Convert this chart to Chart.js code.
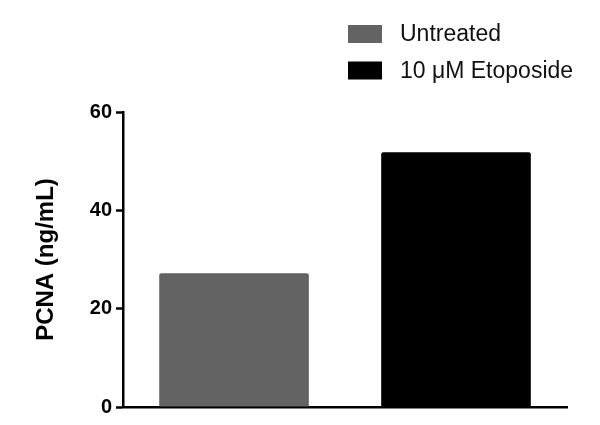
<!DOCTYPE html>
<html>
<head>
<meta charset="utf-8">
<script src="https://cdn.jsdelivr.net/npm/chart.js@4.4.1/dist/chart.umd.min.js"></script>
<style>
  html, body { margin: 0; padding: 0; background: #fff; }
  #wrap { width: 600px; height: 425px; }
</style>
</head>
<body>
<div id="wrap"><canvas id="pcnaChart"></canvas></div>
<script>
// values
const groups = ["Untreated", "10 \u03bcM Etoposide"];
const pcnaValues = [27.2, 51.8];
const barColors = ["#636363", "#000000"];
const yTicks = [0, 20, 40, 60];

const FONT = "Arial, 'Liberation Sans', Helvetica, sans-serif";

// stacked legend in the top right corner, drawn on the canvas
const stackedLegend = {
    id: "stackedLegend",
    afterDraw(chart) {
        const ctx = chart.ctx;
        const x0 = 348, y0 = 25, boxW = 34, boxH = 18, rowGap = 36.5;
        ctx.save();
        ctx.font = "23px " + FONT;
        ctx.textBaseline = "middle";
        ctx.textAlign = "left";
        chart.data.labels.forEach((lbl, i) => {
            const y = y0 + i * rowGap;
            ctx.fillStyle = chart.data.datasets[0].backgroundColor[i];
            ctx.fillRect(x0, y, boxW, boxH);
            ctx.fillStyle = "#111";
            ctx.fillText(lbl, x0 + 52, y + boxH / 2 + 1);
        });
        ctx.restore();
    },
};

new Chart(document.getElementById("pcnaChart"), {
    type: "bar",
    data: {
        labels: groups,
        datasets: [{
            data: pcnaValues,
            backgroundColor: barColors,
            borderRadius: 2,
            borderSkipped: "bottom",
            categoryPercentage: 1,
            barPercentage: 0.674,
        }],
    },
    options: {
        responsive: true,
        maintainAspectRatio: false,
        animation: false,
        layout: { padding: { top: 112, right: 33, bottom: 18, left: 24 } },
        plugins: {
            legend: { display: false },
            tooltip: { enabled: false },
        },
        scales: {
            x: {
                ticks: { display: false },
                grid: { display: false, drawTicks: false },
                border: { display: true, color: "#000", width: 2.5 },
            },
            y: {
                min: 0,
                max: 60,
                afterBuildTicks: s => { s.ticks = yTicks.map(v => ({ value: v })); },
                ticks: {
                    color: "#000",
                    padding: 4,
                    font: { family: FONT, size: 20, weight: "bold" },
                },
                grid: {
                    drawOnChartArea: false,
                    drawTicks: true,
                    tickLength: 7,
                    tickWidth: 2.5,
                    color: "#000",
                },
                border: { display: true, color: "#000", width: 2.5 },
                title: {
                    display: true,
                    text: "PCNA (ng/mL)",
                    color: "#000",
                    padding: { top: 8, bottom: 25 },
                    font: { family: FONT, size: 24, weight: "bold" },
                },
            },
        },
    },
    plugins: [stackedLegend],
});
</script>
</body>
</html>
